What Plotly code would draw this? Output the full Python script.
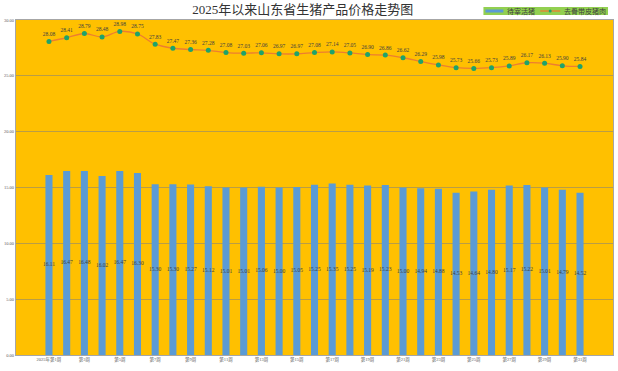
import plotly.graph_objects as go

weeks = ["2025年第1周"] + [f"第{i}周" for i in range(2, 32)]
live_pig = [16.11, 16.47, 16.48, 16.02, 16.47, 16.30, 15.30, 15.30, 15.27, 15.12,
            15.01, 15.01, 15.06, 15.00, 15.05, 15.25, 15.35, 15.25, 15.19, 15.23,
            15.00, 14.94, 14.88, 14.53, 14.64, 14.80, 15.17, 15.22, 15.01, 14.79, 14.52]
pork = [28.08, 28.41, 28.79, 28.48, 28.98, 28.75, 27.83, 27.47, 27.36, 27.28,
        27.08, 27.03, 27.06, 26.97, 26.97, 27.08, 27.14, 27.05, 26.90, 26.86,
        26.62, 26.29, 25.98, 25.73, 25.66, 25.73, 25.89, 26.17, 26.13, 25.90, 25.84]
y_ticks = [0, 5, 10, 15, 20, 25, 30]
series_names = ["待宰活猪", "去骨带皮猪肉"]

FONT = "Liberation Serif, Noto Sans CJK SC, serif"
W, H = 618, 371
ML, MR, MT, MB = 15, 4, 20, 16
PW, PH = W - ML - MR, H - MT - MB


def px(x):
    return (x - ML) / PW


def py(y):
    return (H - MB - y) / PH


fig = go.Figure()
fig.add_trace(go.Bar(
    x=weeks, y=live_pig, name=series_names[0],
    marker=dict(color="#5B9BD5", line=dict(width=0)),
))
fig.add_trace(go.Scatter(
    x=weeks, y=[v / 2 for v in live_pig], mode="text",
    text=[f"{v:.2f}" for v in live_pig], textposition="middle center",
    textfont=dict(size=5.5, color="#404040", family=FONT),
    showlegend=False, hoverinfo="skip",
))
fig.add_trace(go.Scatter(
    x=weeks, y=pork, name=series_names[1], mode="lines+markers+text",
    line=dict(color="#ED7D31", width=1.3, shape="spline"),
    marker=dict(color="#1FA36A", size=5),
    text=[f"{v:.2f}" for v in pork], textposition="top center",
    textfont=dict(size=5.5, color="#404040", family=FONT),
))

# legend drawn as a compact strip like the original
shapes = [
    dict(type="rect", xref="paper", yref="paper", x0=px(484), x1=px(609), y0=py(15), y1=py(7),
         fillcolor="#92D050", line=dict(width=0), layer="above"),
    dict(type="rect", xref="paper", yref="paper", x0=px(486), x1=px(504), y0=py(12.5), y1=py(9.5),
         fillcolor="#5B9BD5", line=dict(width=0), layer="above"),
    dict(type="line", xref="paper", yref="paper", x0=px(541), x1=px(561), y0=py(11), y1=py(11),
         line=dict(color="#ED7D31", width=1.3), layer="above"),
    dict(type="circle", xref="paper", yref="paper", x0=px(549.5), x1=px(552.5), y0=py(12.5), y1=py(9.5),
         fillcolor="#1FA36A", line=dict(width=0), layer="above"),
]
annotations = [
    dict(text=series_names[0], xref="paper", yref="paper", x=px(506), y=py(11),
         xanchor="left", yanchor="middle", showarrow=False,
         font=dict(size=7, color="#404040", family=FONT)),
    dict(text=series_names[1], xref="paper", yref="paper", x=px(563), y=py(11),
         xanchor="left", yanchor="middle", showarrow=False,
         font=dict(size=7, color="#404040", family=FONT)),
]

fig.update_layout(
    width=W, height=H,
    margin=dict(l=ML, r=MR, t=MT, b=MB),
    paper_bgcolor="#FFFFFF",
    plot_bgcolor="#FFC000",
    bargap=0.6,
    showlegend=False,
    title=dict(text="2025年以来山东省生猪产品价格走势图", x=0.49, xanchor="center",
               y=0.975, yanchor="middle",
               font=dict(size=13, color="#333333", family=FONT)),
    shapes=shapes,
    annotations=annotations,
)
fig.update_xaxes(
    tickmode="array", tickvals=weeks[::2], ticktext=weeks[::2],
    tickfont=dict(size=4.5, color="#595959", family=FONT),
    tickangle=0, showline=True, linecolor="#A6A6A6", mirror=True,
    ticks="", showgrid=False,
)
fig.update_yaxes(
    range=[0, 30], tickvals=y_ticks, ticktext=[f"{v:.2f}" for v in y_ticks],
    tickfont=dict(size=4.5, color="#595959", family=FONT),
    showline=True, linecolor="#A6A6A6", mirror=True,
    gridcolor="rgba(128,128,128,0.55)", gridwidth=1, zeroline=False,
)

fig.write_html("out.html")
